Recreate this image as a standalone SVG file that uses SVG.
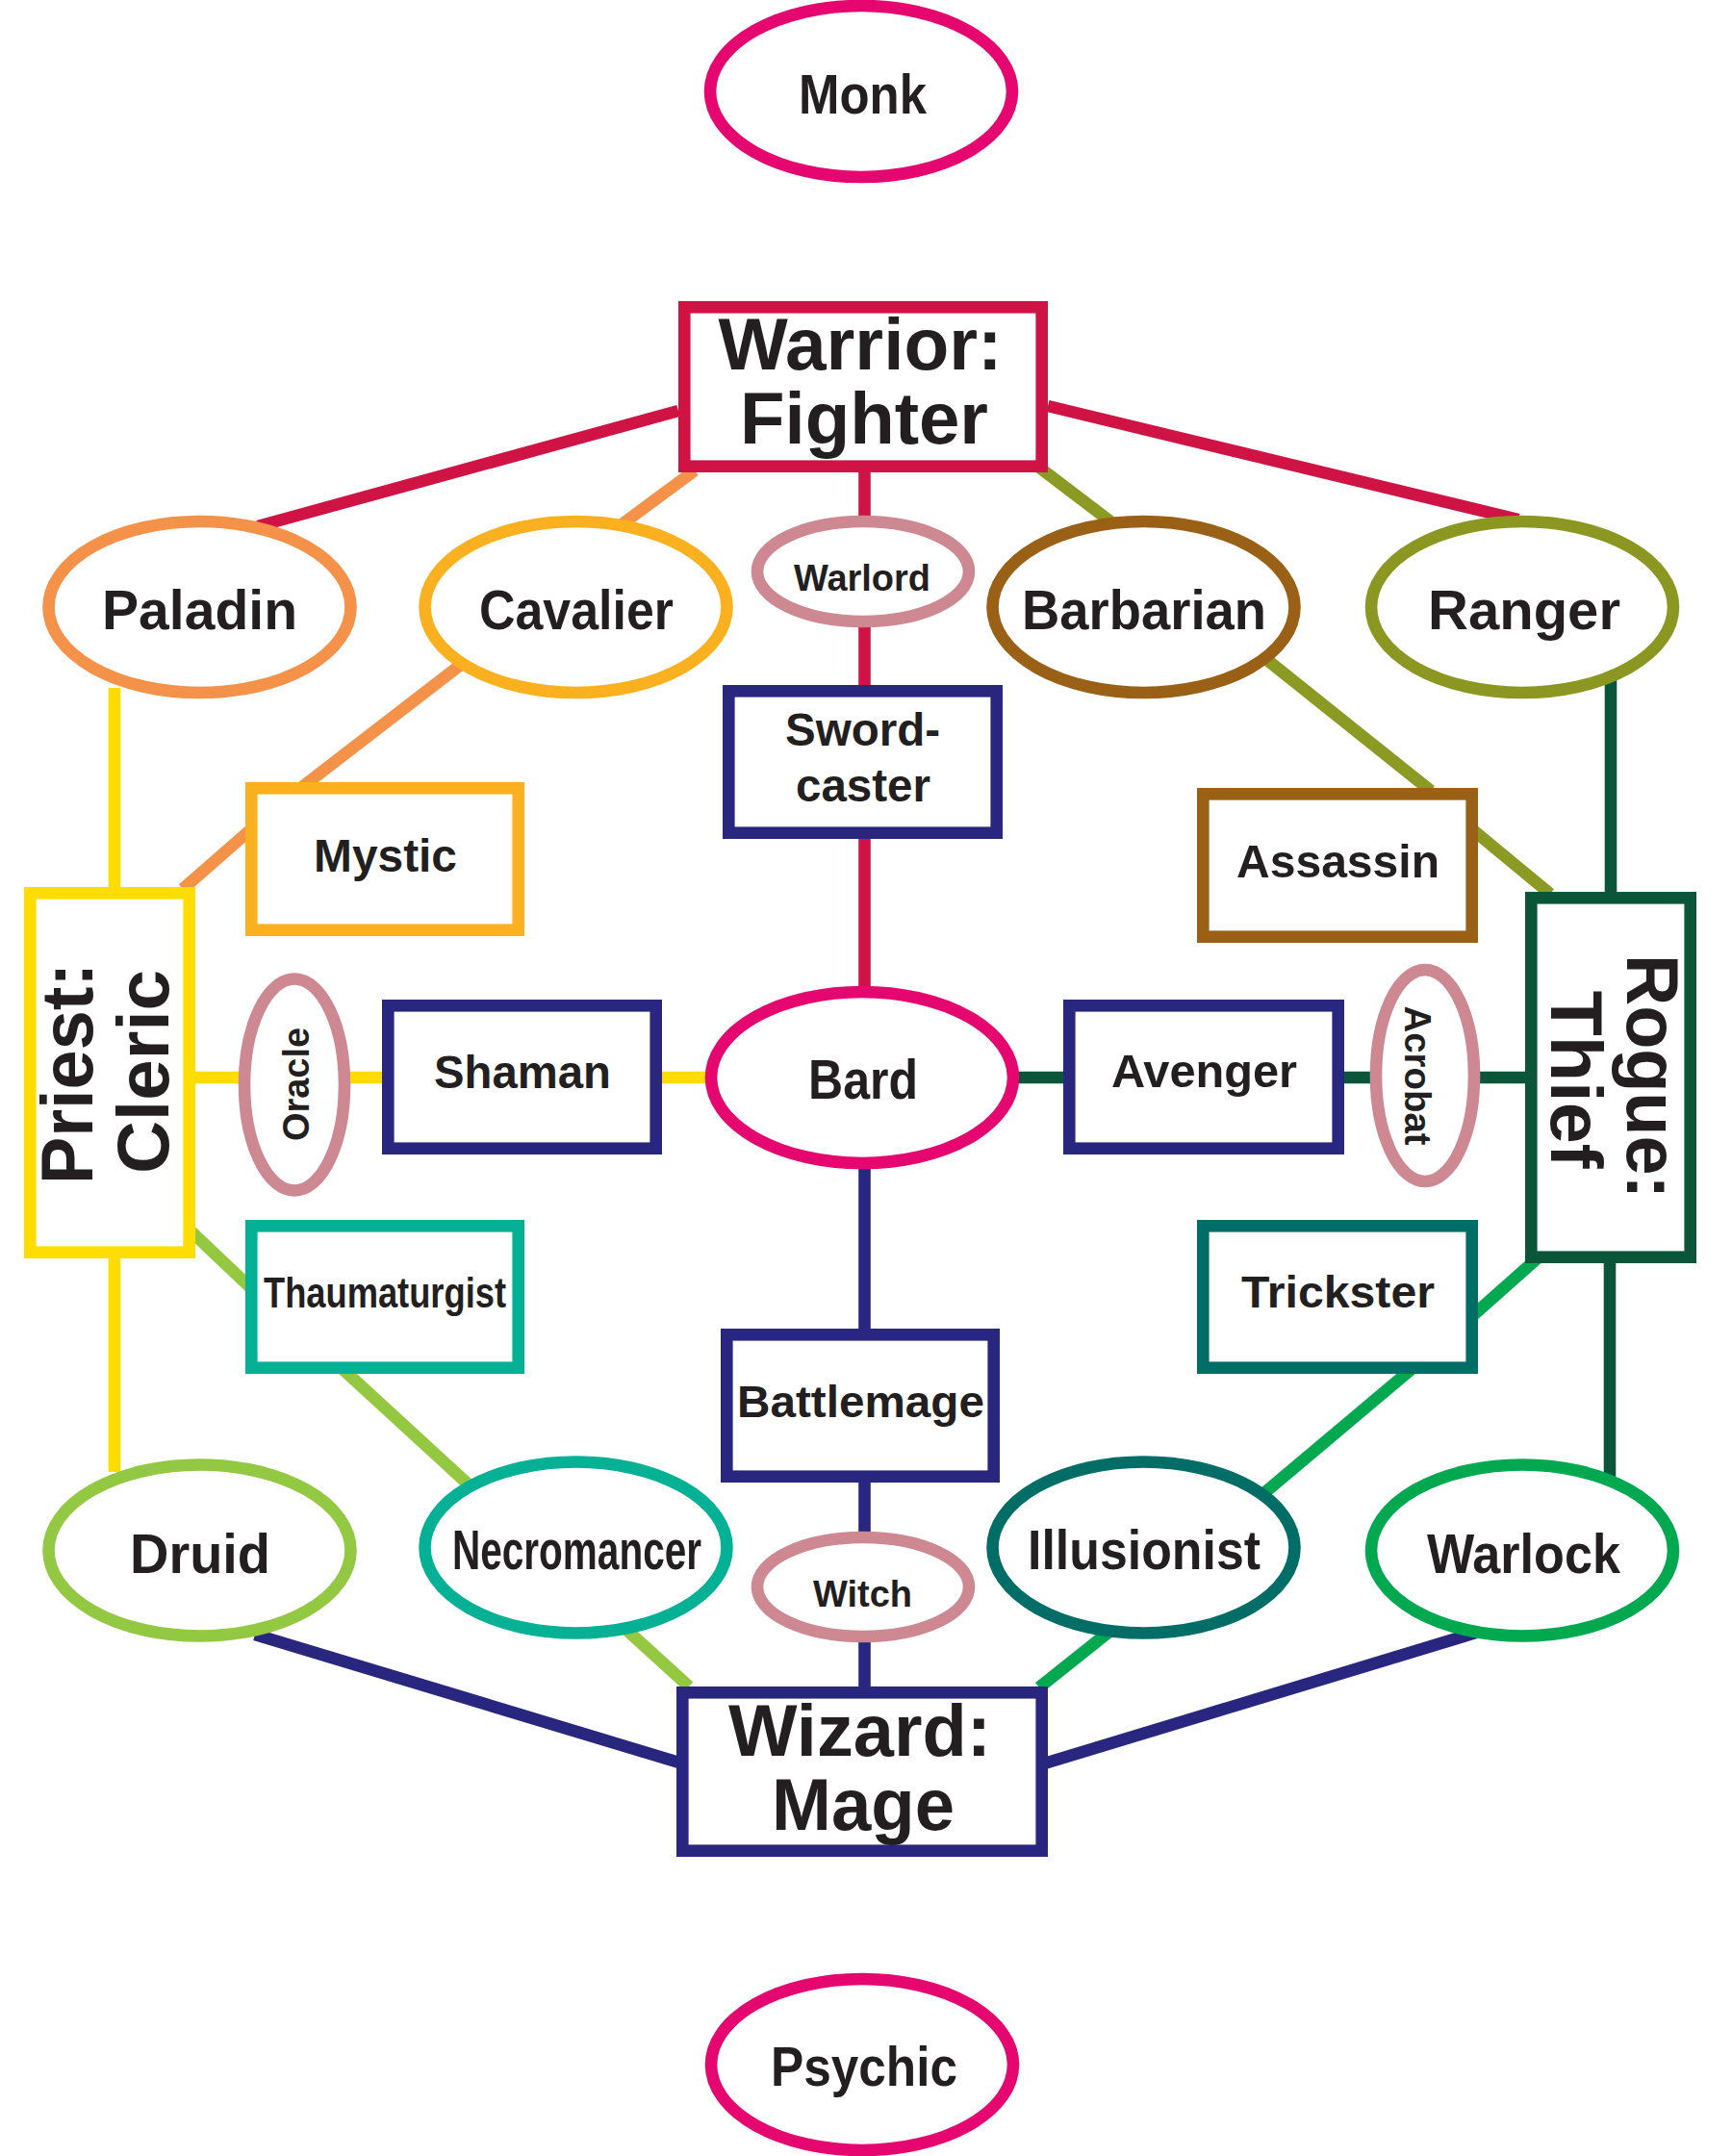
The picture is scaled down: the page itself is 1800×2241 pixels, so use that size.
<svg xmlns="http://www.w3.org/2000/svg" width="1800" height="2241" viewBox="0 0 1800 2241">
<style>
.n{fill:#fff;stroke-width:12.6}
.c line{stroke-width:12.6;stroke-linecap:butt}
text{font-family:"Liberation Sans",Arial,sans-serif;font-weight:bold;fill:#231F20;text-anchor:middle}
.big{font-size:76px}
.e{font-size:57px}
.b{font-size:48px}
.s{font-size:38px}
</style>
<rect width="1800" height="2241" fill="#fff"/>
<g id="connectors" class="c">
<line x1="705" y1="427" x2="268" y2="547" stroke="#CF1445"/>
<line x1="1089" y1="422" x2="1578" y2="540" stroke="#CF1445"/>
<line x1="898.5" y1="480" x2="898.5" y2="1035" stroke="#CF1445"/>
<line x1="722" y1="489" x2="645" y2="546" stroke="#F4924A"/>
<line x1="480" y1="690" x2="314" y2="818" stroke="#F4924A"/>
<line x1="262" y1="861" x2="190" y2="924" stroke="#F4924A"/>
<line x1="1079" y1="485" x2="1154" y2="542" stroke="#8B9A23"/>
<line x1="1312" y1="682" x2="1487" y2="822" stroke="#8B9A23"/>
<line x1="1530" y1="862" x2="1611" y2="929" stroke="#8B9A23"/>
<line x1="1674" y1="700" x2="1674" y2="935" stroke="#0B553A"/>
<line x1="1673" y1="1305" x2="1673" y2="1540" stroke="#0B553A"/>
<line x1="1050" y1="1120" x2="1590" y2="1120" stroke="#0B553A"/>
<line x1="119" y1="715" x2="119" y2="930" stroke="#FFDC00"/>
<line x1="119" y1="1300" x2="119" y2="1530" stroke="#FFDC00"/>
<line x1="198" y1="1120" x2="742" y2="1120" stroke="#FFDC00"/>
<line x1="185" y1="1267" x2="262" y2="1340" stroke="#94C841"/>
<line x1="355" y1="1422" x2="489" y2="1545" stroke="#94C841"/>
<line x1="650" y1="1693" x2="716" y2="1753" stroke="#94C841"/>
<line x1="1601" y1="1305" x2="1530" y2="1368" stroke="#00A850"/>
<line x1="1467" y1="1423" x2="1309" y2="1556" stroke="#00A850"/>
<line x1="1154" y1="1695" x2="1080" y2="1754" stroke="#00A850"/>
<line x1="898.5" y1="1205" x2="898.5" y2="1390" stroke="#29267F"/>
<line x1="898.5" y1="1535" x2="898.5" y2="1760" stroke="#29267F"/>
<line x1="265" y1="1699" x2="709" y2="1833" stroke="#29267F"/>
<line x1="1534" y1="1697" x2="1082" y2="1834" stroke="#29267F"/>
</g>
<g id="monk"><ellipse class="n" cx="895" cy="95" rx="157" ry="89" stroke="#E5076F"/><text class="e" x="896.5" y="118" textLength="133" lengthAdjust="spacingAndGlyphs">Monk</text></g>
<g id="warrior"><rect class="n" x="711.3" y="319.3" width="371.4" height="165.4" stroke="#CF1445"/><text class="big" x="894" y="384" textLength="295" lengthAdjust="spacingAndGlyphs">Warrior:</text><text class="big" x="898" y="461" textLength="258" lengthAdjust="spacingAndGlyphs">Fighter</text></g>
<g id="paladin"><ellipse class="n" cx="207.5" cy="631" rx="157" ry="89" stroke="#F4924A"/><text class="e" x="207.5" y="654" textLength="203" lengthAdjust="spacingAndGlyphs">Paladin</text></g>
<g id="cavalier"><ellipse class="n" cx="598.5" cy="631" rx="157" ry="89" stroke="#FBB11F"/><text class="e" x="599" y="654" textLength="202" lengthAdjust="spacingAndGlyphs">Cavalier</text></g>
<g id="warlord"><ellipse class="n" cx="897" cy="594" rx="110" ry="52" stroke="#CD8892"/><text class="s" x="896" y="614" textLength="142" lengthAdjust="spacingAndGlyphs">Warlord</text></g>
<g id="barbarian"><ellipse class="n" cx="1188.5" cy="631" rx="157" ry="89" stroke="#9A6015"/><text class="e" x="1189" y="654" textLength="254" lengthAdjust="spacingAndGlyphs">Barbarian</text></g>
<g id="ranger"><ellipse class="n" cx="1582" cy="631" rx="157" ry="89" stroke="#8C9722"/><text class="e" x="1584" y="654" textLength="200" lengthAdjust="spacingAndGlyphs">Ranger</text></g>
<g id="swordcaster"><rect class="n" x="757.3" y="718.3" width="278.4" height="147.4" stroke="#29267F"/><text class="b" x="896.5" y="775" textLength="161" lengthAdjust="spacingAndGlyphs">Sword-</text><text class="b" x="897" y="833" textLength="140" lengthAdjust="spacingAndGlyphs">caster</text></g>
<g id="mystic"><rect class="n" x="261.3" y="819.3" width="277.4" height="147.4" stroke="#FBB11F"/><text class="b" x="400.5" y="906" textLength="149" lengthAdjust="spacingAndGlyphs">Mystic</text></g>
<g id="assassin"><rect class="n" x="1250.3" y="825.3" width="279.4" height="148.4" stroke="#9A6015"/><text class="b" x="1390.5" y="912" textLength="211" lengthAdjust="spacingAndGlyphs">Assassin</text></g>
<g id="priest"><rect class="n" x="31.3" y="928.3" width="165.4" height="373.4" stroke="#FFDD00"/><text class="big" transform="translate(96,1116) rotate(-90)" textLength="230" lengthAdjust="spacingAndGlyphs">Priest:</text><text class="big" transform="translate(175,1114) rotate(-90)" textLength="212" lengthAdjust="spacingAndGlyphs">Cleric</text></g>
<g id="oracle"><ellipse class="n" cx="306" cy="1127.5" rx="52" ry="110" stroke="#CD8892"/><text class="s" transform="translate(321,1127) rotate(-90)" textLength="118" lengthAdjust="spacingAndGlyphs">Oracle</text></g>
<g id="shaman"><rect class="n" x="403.3" y="1045.3" width="278.4" height="148.4" stroke="#29267F"/><text class="b" x="543" y="1131" textLength="184" lengthAdjust="spacingAndGlyphs">Shaman</text></g>
<g id="bard"><ellipse class="n" cx="896" cy="1120" rx="157" ry="89" stroke="#E5076F"/><text class="e" x="897" y="1142" textLength="114" lengthAdjust="spacingAndGlyphs">Bard</text></g>
<g id="avenger"><rect class="n" x="1111.3" y="1045.3" width="279.4" height="148.4" stroke="#29267F"/><text class="b" x="1251.5" y="1130" textLength="193" lengthAdjust="spacingAndGlyphs">Avenger</text></g>
<g id="acrobat"><ellipse class="n" cx="1481" cy="1118" rx="51" ry="110" stroke="#CD8892"/><text class="s" transform="translate(1460,1118) rotate(90)" textLength="145" lengthAdjust="spacingAndGlyphs">Acrobat</text></g>
<g id="rogue"><rect class="n" x="1591.3" y="933.3" width="165.4" height="373.4" stroke="#0B553A"/><text class="big" transform="translate(1691,1119) rotate(90)" textLength="254" lengthAdjust="spacingAndGlyphs">Rogue:</text><text class="big" transform="translate(1612,1122) rotate(90)" textLength="185" lengthAdjust="spacingAndGlyphs">Thief</text></g>
<g id="thaumaturgist"><rect class="n" x="261.3" y="1274.3" width="277.4" height="147.4" stroke="#05B194"/><text x="400" y="1359" font-size="45" textLength="252" lengthAdjust="spacingAndGlyphs">Thaumaturgist</text></g>
<g id="trickster"><rect class="n" x="1250.3" y="1274.3" width="279.4" height="147.4" stroke="#006E67"/><text x="1390.5" y="1359" font-size="46" textLength="201" lengthAdjust="spacingAndGlyphs">Trickster</text></g>
<g id="battlemage"><rect class="n" x="755.3" y="1387.3" width="277.4" height="147.4" stroke="#29267F"/><text x="894.5" y="1473" font-size="47" textLength="257" lengthAdjust="spacingAndGlyphs">Battlemage</text></g>
<g id="druid"><ellipse class="n" cx="207.5" cy="1611.5" rx="157" ry="89" stroke="#93C842"/><text class="e" x="208" y="1634.5" textLength="146" lengthAdjust="spacingAndGlyphs">Druid</text></g>
<g id="necromancer"><ellipse class="n" cx="598.5" cy="1608.5" rx="157" ry="89" stroke="#05B194"/><text class="e" x="599.5" y="1631" textLength="259" lengthAdjust="spacingAndGlyphs">Necromancer</text></g>
<g id="witch"><ellipse class="n" cx="897" cy="1649.5" rx="110" ry="51.5" stroke="#CD8892"/><text class="s" x="896.5" y="1669.5" textLength="103" lengthAdjust="spacingAndGlyphs">Witch</text></g>
<g id="illusionist"><ellipse class="n" cx="1188.5" cy="1608.5" rx="157" ry="89" stroke="#006E67"/><text class="e" x="1189" y="1631" textLength="242" lengthAdjust="spacingAndGlyphs">Illusionist</text></g>
<g id="warlock"><ellipse class="n" cx="1582" cy="1611.5" rx="157" ry="89" stroke="#00A84F"/><text class="e" x="1583.5" y="1634.5" textLength="201" lengthAdjust="spacingAndGlyphs">Warlock</text></g>
<g id="wizard"><rect class="n" x="709.3" y="1759.3" width="373.4" height="164.4" stroke="#29267F"/><text class="big" x="893.5" y="1825" textLength="273" lengthAdjust="spacingAndGlyphs">Wizard:</text><text class="big" x="897" y="1902" textLength="190" lengthAdjust="spacingAndGlyphs">Mage</text></g>
<g id="psychic"><ellipse class="n" cx="896" cy="2146" rx="157" ry="89" stroke="#E5076F"/><text class="e" x="898" y="2168" textLength="194" lengthAdjust="spacingAndGlyphs">Psychic</text></g>
</svg>
